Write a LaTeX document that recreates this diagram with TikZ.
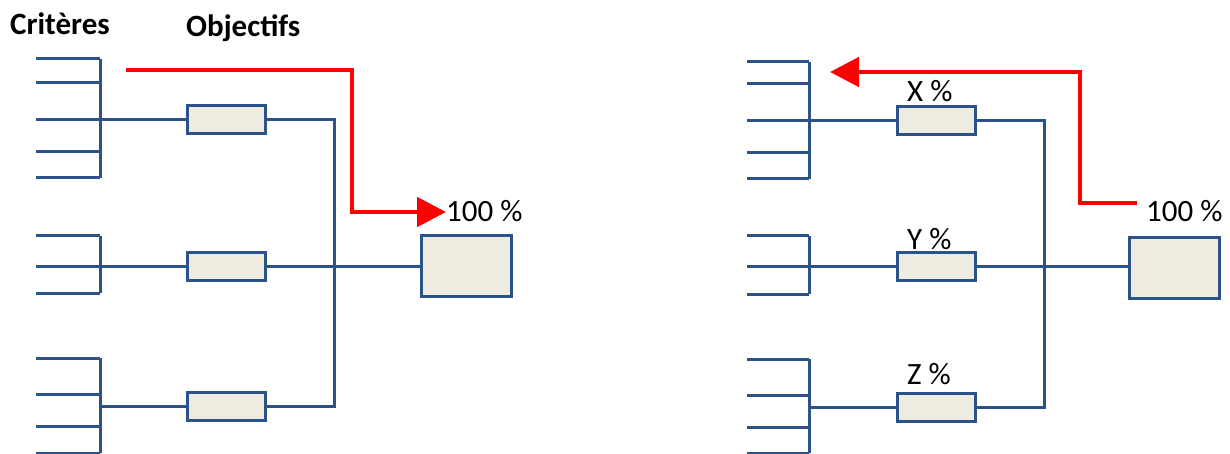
\documentclass[tikz,border=0pt]{standalone}
\usepackage{fontspec}
\setmainfont{Carlito}
\usetikzlibrary{arrows.meta,positioning}
\definecolor{linkblue}{RGB}{44,82,138}
\definecolor{boxtan}{RGB}{238,236,225}
\tikzset{
  link/.style={draw=linkblue, line width=3pt},
  objbox/.style={link, fill=boxtan, minimum width=78pt, minimum height=28pt, inner sep=0pt},
  goalbox/.style={objbox, minimum width=90pt, minimum height=61pt},
  flow/.style={draw=red, line width=4.8pt, line join=miter, -{Triangle[length=29pt,width=29pt]}},
  pct/.style={inner sep=0pt, anchor=base west, font=\fontsize{31}{36}\selectfont},
  head/.style={inner sep=0pt, anchor=base west, font=\bfseries\fontsize{31}{36}\selectfont}
}
\begin{document}
\begin{tikzpicture}[x=1pt, y=-1pt]
	\useasboundingbox (0,0) rectangle (1230,454);
	% headings
	\node[head] (crit) at (10,35) {Critères};
	\node[head] (obj) at (186,37) {Objectifs};
	% left: criteria
	\foreach \y in {59,83,120,152,178,236,266,293,358,394,426,453}
		\draw[link] (36,\y) -- (100,\y);
	\draw[link] (100,59) -- (100,178)
		(100,236) -- (100,293)
		(100,358) -- (100,453);
	\coordinate (critL1) at (100,120);
	\coordinate (critL2) at (100,266);
	\coordinate (critL3) at (100,406);
	% left: objectives
	\node[objbox] (objL1) at (226.5,120) {};
	\node[objbox] (objL2) at (226.5,266) {};
	\node[objbox] (objL3) at (226.5,406) {};
	\node[goalbox] (goalL) at (466.5,266) {};
	\coordinate (busL1) at (334,120);
	\coordinate (busL3) at (334,406);
	\draw[link] (critL1) -- (objL1);
	\draw[link] (critL2) -- (objL2);
	\draw[link] (critL3) -- (objL3);
	\draw[link] (objL1) -- (busL1) -- (busL3) -- (objL3);
	\draw[link] (objL2) -- (goalL);
	% left: flow down
	\node[pct] (sumL) at (446,222) {100 \%};
	\coordinate (flowL) at (126,70);
	\draw[flow] (flowL) -- (352,70) -- (352,212) -- (sumL.west |- 0,212);
	% right: criteria
	\foreach \y in {62,84,121,153,179,236,266,294,359,395,427,453}
		\draw[link] (747,\y) -- (809,\y);
	\draw[link] (809,62) -- (809,179)
		(809,236) -- (809,294)
		(809,359) -- (809,453);
	\coordinate (critR1) at (809,121);
	\coordinate (critR2) at (809,266);
	\coordinate (critR3) at (809,407);
	% right: objectives
	\node[objbox] (objR1) at (936.5,121) {};
	\node[objbox] (objR2) at (936.5,266) {};
	\node[objbox] (objR3) at (936.5,407) {};
	\node[goalbox] (goalR) at (1174,268) {};
	\coordinate (busR1) at (1044,121);
	\coordinate (busR3) at (1044,407);
	\draw[link] (critR1) -- (objR1);
	\draw[link] (critR2) -- (objR2);
	\draw[link] (critR3) -- (objR3);
	\draw[link] (objR1) -- (busR1) -- (busR3) -- (objR3);
	\draw[link] (objR2) -- (objR2 -| goalR.west);
	\node[pct] (pctX) at (907,102) {X \%};
	\node[pct] (pctY) at (907,249) {Y \%};
	\node[pct] (pctZ) at (907,384) {Z \%};
	% right: flow up
	\node[pct] (sumR) at (1146,222) {100 \%};
	\coordinate (flowR) at (830,72);
	\draw[flow] (1137,203) -- (1080,203) -- (1080,72) -- (flowR);
\end{tikzpicture}
\end{document}
